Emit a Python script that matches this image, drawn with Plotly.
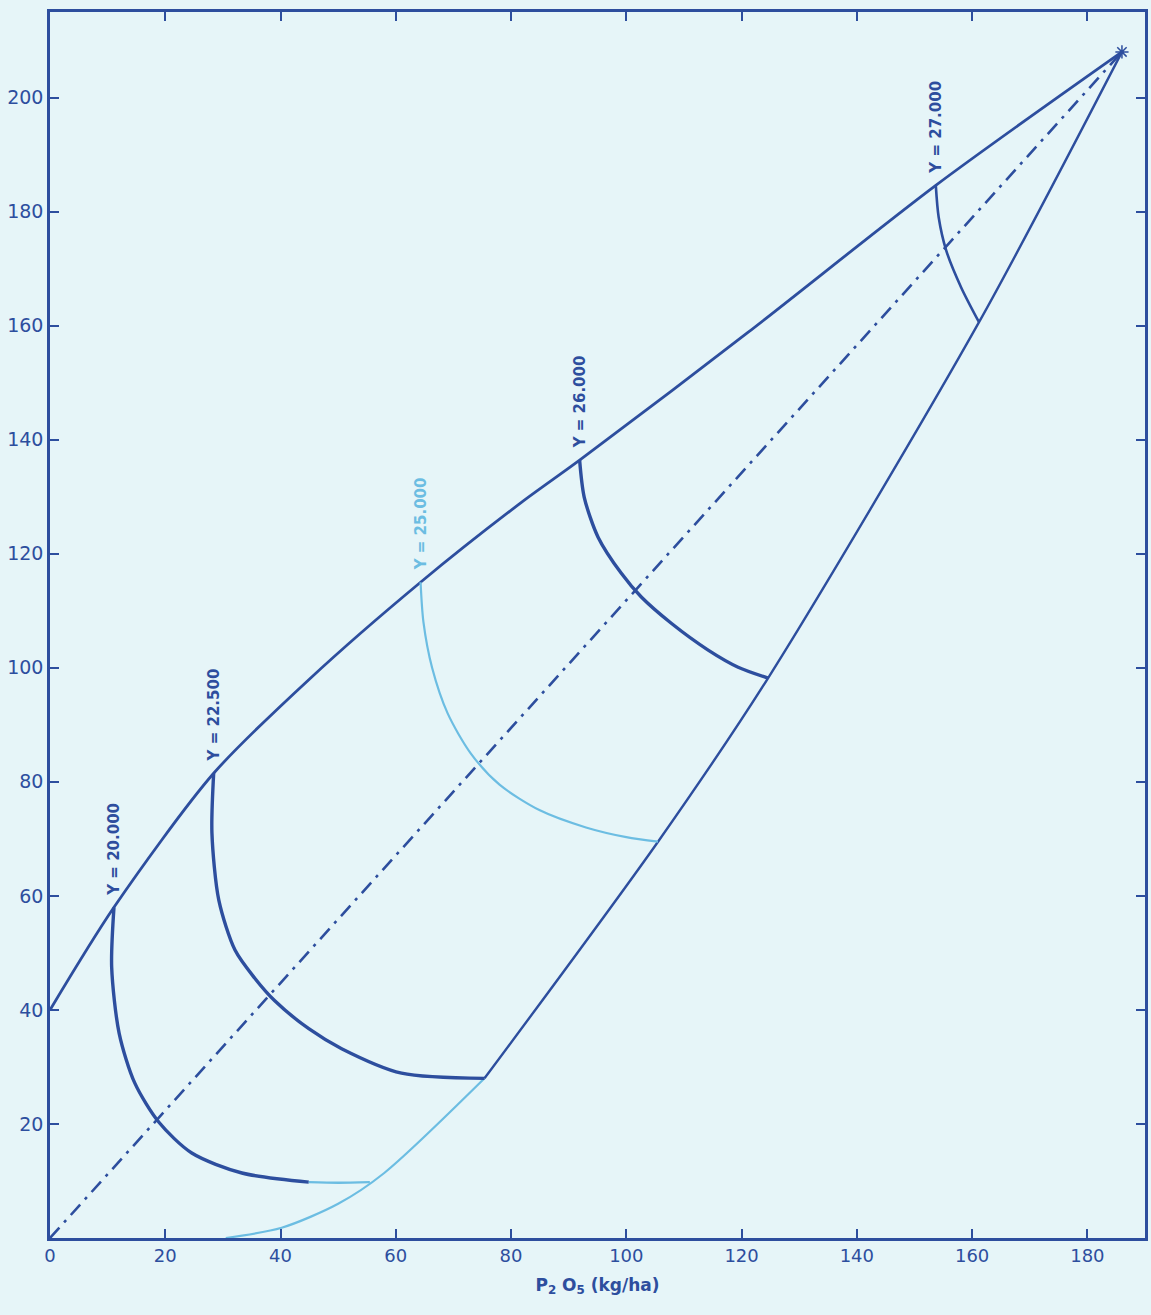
import plotly.graph_objects as go

# ---- data (P2O5 on x, second input on y) ----
x_ticks = [0, 20, 40, 60, 80, 100, 120, 140, 160, 180]
y_ticks = [20, 40, 60, 80, 100, 120, 140, 160, 180, 200]

upper_x = [0, 11.1, 28.4, 45, 64.3, 81.8, 91.9, 121.1, 153.7, 186]
upper_y = [40, 58, 81.5, 98, 115, 129, 136.4, 158.8, 184.6, 208]

lower_light_x = [30.5, 40.2, 50, 58, 75.4]
lower_light_y = [0, 1.8, 6, 11.4, 28]
lower_dark_x = [75.4, 105.5, 124.6, 161.2, 186]
lower_dark_y = [28, 69.5, 98.2, 160.6, 208]

diag_x = [0, 186]
diag_y = [0, 208]

iso20_x = [11.1, 10.7, 12.0, 14.7, 18.9, 24.6, 33.3, 44.9]
iso20_y = [58, 47.5, 35.9, 27.2, 20.3, 14.9, 11.4, 9.8]
iso20_tail_x = [44.9, 50, 55.5]
iso20_tail_y = [9.8, 9.7, 9.8]

iso225_x = [28.4, 28.1, 29.3, 32.1, 35.5, 39.0, 44.9, 50.6, 61, 75.4]
iso225_y = [81.5, 71.0, 59.2, 50.5, 45.6, 41.6, 36.7, 33.2, 28.9, 28]

iso25_x = [64.3, 64.8, 66.3, 69, 73, 78, 85, 93, 100, 105.5]
iso25_y = [115, 108, 100, 92, 85, 79.5, 75, 72, 70.3, 69.5]

iso26_x = [91.9, 92.7, 95.1, 99.1, 102.6, 107.8, 114.2, 119.4, 124.6]
iso26_y = [136.4, 129.9, 122.9, 116.6, 112.4, 107.8, 103.1, 100.1, 98.2]

iso27_x = [153.7, 154.2, 155.5, 158.1, 161.2]
iso27_y = [184.6, 179.0, 173.2, 166.7, 160.6]

iso_labels = ["Y = 20.000", "Y = 22.500", "Y = 25.000", "Y = 26.000", "Y = 27.000"]

# ---- styling ----
ink = "#2d4e9e"
light = "#6cbde2"
bg = "#e6f5f8"
font_family = "DejaVu Sans"

fig = go.Figure()

def add_line(x, y, color, width, dash="solid"):
    fig.add_trace(go.Scatter(
        x=x, y=y, mode="lines",
        line=dict(color=color, width=width, dash=dash, shape="spline", smoothing=0.8),
        showlegend=False, hoverinfo="skip"))

add_line(diag_x, diag_y, ink, 2.6, dash="14px,7px,3px,7px")
add_line(upper_x, upper_y, ink, 2.8)
add_line(lower_light_x, lower_light_y, light, 2.2)
add_line(lower_dark_x, lower_dark_y, ink, 2.4)
add_line(iso20_x, iso20_y, ink, 3.4)
add_line(iso20_tail_x, iso20_tail_y, light, 2.4)
add_line(iso225_x, iso225_y, ink, 3.4)
add_line(iso25_x, iso25_y, light, 2.2)
add_line(iso26_x, iso26_y, ink, 3.4)
add_line(iso27_x, iso27_y, ink, 2.6)

# convergence mark
fig.add_trace(go.Scatter(
    x=[diag_x[-1]], y=[diag_y[-1]], mode="markers",
    marker=dict(symbol="asterisk-open", size=11, color=ink, line=dict(color=ink, width=1.5)),
    showlegend=False, hoverinfo="skip"))

# isoquant labels (rotated, sitting on the top end of each curve)
label_pts = [(iso20_x[0], iso20_y[0], ink), (iso225_x[0], iso225_y[0], ink),
             (iso25_x[0], iso25_y[0], light), (iso26_x[0], iso26_y[0], ink),
             (iso27_x[0], iso27_y[0], ink)]
for txt, (lx, ly, col) in zip(iso_labels, label_pts):
    fig.add_annotation(
        x=lx, y=ly, text="<b>" + txt + "</b>", textangle=-90,
        showarrow=False, xanchor="center", yanchor="bottom", yshift=10,
        font=dict(family=font_family, size=15, color=col))

axis_common = dict(
    showline=True, linecolor=ink, linewidth=2.5, mirror="ticks",
    ticks="inside", ticklen=9, tickwidth=2, tickcolor=ink,
    showgrid=False, zeroline=False, automargin=False,
)

fig.update_layout(
    width=1151, height=1315,
    margin=dict(l=50, r=6, t=12, b=77),
    paper_bgcolor=bg, plot_bgcolor=bg,
    xaxis=dict(range=[0, 190], tickvals=x_ticks, ticktext=[str(v) for v in x_ticks],
               tickfont=dict(family=font_family, size=18, color=ink),
               title=dict(text="<b>P<sub>2</sub> O<sub>5</sub> (kg/ha)</b>",
                          font=dict(family=font_family, size=17, color=ink), standoff=14),
               **axis_common),
    yaxis=dict(range=[0, 215], tickvals=y_ticks, ticktext=[str(v) for v in y_ticks],
               tickfont=dict(family=font_family, size=19, color=ink),
               **axis_common),
)

fig.write_html(
    "out.html",
    config={"displayModeBar": False},
    post_script="document.body.style.margin='0';document.body.style.background='" + bg + "';",
)
